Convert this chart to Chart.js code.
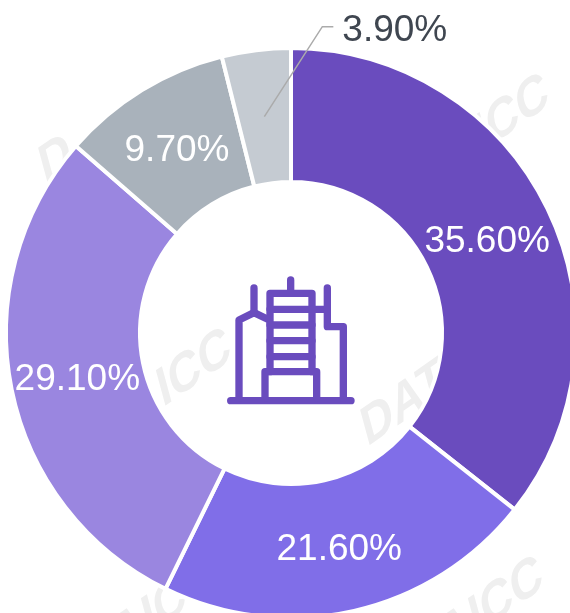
<!DOCTYPE html>
<html>
<head>
<meta charset="utf-8">
<style>
html,body{margin:0;padding:0;width:570px;height:613px;overflow:hidden;background:#fff}
#wrap{position:relative;width:570px;height:613px;overflow:hidden}
#c{position:absolute;left:-9px;top:-7px}
</style>
<script src="https://cdn.jsdelivr.net/npm/chart.js@4/dist/chart.umd.min.js"></script>
</head>
<body>
<div id="wrap"><canvas id="c" width="600" height="680" style="width:600px;height:680px"></canvas></div>
<script>
const categories = ['A', 'B', 'C', 'D', 'E'];
const shares = [35.6, 21.6, 29.1, 9.7, 3.9];
const sliceColors = ['#6A4CBE', '#806EE8', '#9A86E0', '#A9B2BB', '#C5CBD2'];
const labelColors = ['#FFFFFF', '#FFFFFF', '#FFFFFF', '#FFFFFF', '#3F4650'];
const outsideLabel = [false, false, false, false, true];

const watermarks = {
  id: 'watermarks',
  beforeDraw(chart) {
    const ctx = chart.ctx;
    const ox = 9, oy = 7; // window to canvas offset
    const stamps = [
      [45, 185, 'D'],
      [367, 447, 'DATAICC'],
      [451, 174, 'AICC'],
      [55, 483, 'DATAICC'],
      [367, 711, 'DATAICC'],
      [40, 711, 'DATAICC']
    ];
    ctx.save();
    ctx.fillStyle = '#EFEFEF';
    ctx.font = 'bold 50px "Liberation Sans"';
    ctx.textBaseline = 'alphabetic';
    stamps.forEach(([x, y, t]) => {
      ctx.save();
      ctx.translate(x + ox, y + oy);
      ctx.rotate(-35 * Math.PI / 180);
      ctx.transform(1, 0, -0.36, 1, 0, 0);
      ctx.fillText(t, 0, 0);
      ctx.restore();
    });
    ctx.restore();
  }
};

const sliceLabels = {
  id: 'sliceLabels',
  afterDraw(chart) {
    const ctx = chart.ctx;
    const arcs = chart.getDatasetMeta(0).data;
    ctx.save();
    ctx.font = '37px "Liberation Sans"';
    ctx.textBaseline = 'middle';
    arcs.forEach((arc, i) => {
      const p = arc.getCenterPoint();
      const text = shares[i].toFixed(2) + '%';
      ctx.fillStyle = labelColors[i];
      if (outsideLabel[i]) {
        const ex = p.x + 58, ey = p.y - 90;
        ctx.strokeStyle = '#ABABAB';
        ctx.lineWidth = 1.5;
        ctx.beginPath();
        ctx.moveTo(p.x, p.y);
        ctx.lineTo(ex, ey);
        ctx.lineTo(ex + 11, ey);
        ctx.stroke();
        ctx.textAlign = 'left';
        ctx.fillText(text, ex + 20, ey + 4);
      } else {
        ctx.textAlign = 'center';
        ctx.fillText(text, p.x, p.y + 4);
      }
    });
    ctx.restore();
  }
};

const centerIcon = {
  id: 'centerIcon',
  afterDraw(chart) {
    const ctx = chart.ctx;
    const a = chart.getDatasetMeta(0).data[0];
    const s = 1 / 3;
    ctx.save();
    ctx.translate(a.x - 91, a.y - 83);
    ctx.scale(s, s);
    ctx.strokeStyle = sliceColors[0];
    ctx.lineWidth = 22;
    ctx.lineCap = 'round';
    ctx.lineJoin = 'round';
    const paths = [
      'M92 452H453',
      'M117 445V210L162 188L208 210',
      'M162 114V188',
      'M272 90V130',
      'M210 365V130H336V365',
      'M210 178H336M210 225H336M210 272H336M210 320H336',
      'M336 178H382',
      'M382 114V230H430V445',
      'M195 445V365H350V445'
    ];
    paths.forEach(d => ctx.stroke(new Path2D(d)));
    ctx.restore();
  }
};

new Chart(document.getElementById('c'), {
  type: 'doughnut',
  data: {
    labels: categories,
    datasets: [{
      data: shares,
      backgroundColor: sliceColors,
      borderColor: '#FFFFFF',
      borderWidth: 4,
      hoverOffset: 0
    }]
  },
  options: {
    responsive: false,
    animation: false,
    cutout: 151,
    layout: { padding: { left: 13, right: 13, top: 53, bottom: 53 } },
    plugins: { legend: { display: false }, tooltip: { enabled: false } }
  },
  plugins: [watermarks, sliceLabels, centerIcon]
});
</script>
</body>
</html>
